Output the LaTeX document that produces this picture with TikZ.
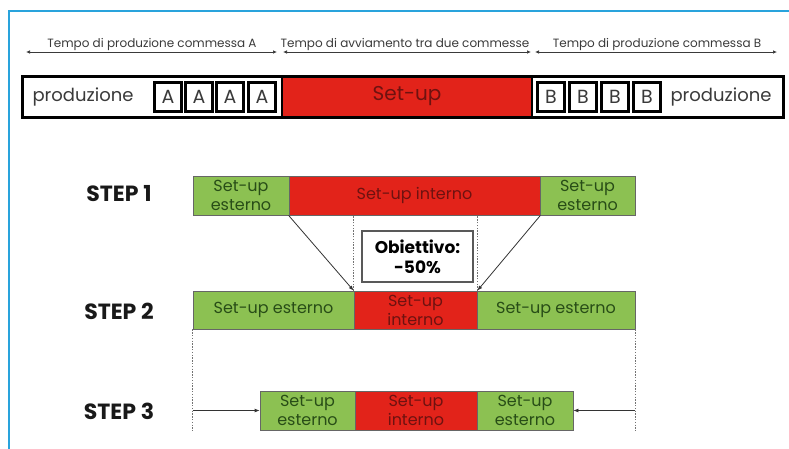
\documentclass[tikz,border=0pt]{standalone}
\usepackage{fontspec}
\setmainfont{Poppins}
\usetikzlibrary{arrows.meta}
\definecolor{frameblue}{HTML}{29A3DC}
\definecolor{sgreen}{HTML}{8CC152}
\definecolor{sred}{HTML}{E2231A}
\definecolor{tgreen}{HTML}{284D17}
\definecolor{tred}{HTML}{6E1210}
\definecolor{tgray}{HTML}{3A3A3A}
\tikzset{
  dimtext/.style={font=\fontsize{12}{14}\selectfont, text=tgray, inner sep=0.5pt, anchor=south},
  dimline/.style={draw=tgray, line width=0.7, {Latex[length=4,width=3.5]}-{Latex[length=4,width=3.5]}},
  letterbox/.style={draw=black, line width=2.6, fill=white, minimum width=27, minimum height=29, inner sep=0, font=\fontsize{19}{19}\selectfont, text=tgray},
  segbase/.style={draw=black!60, line width=0.8, inner sep=0, align=center, font=\fontsize{16}{19}\selectfont},
  gseg/.style={segbase, fill=sgreen, text=tgreen},
  rseg/.style={segbase, fill=sred, text=tred},
  steplabel/.style={font=\bfseries\fontsize{22}{22}\selectfont, text=black!90},
  arr/.style={draw=black!80, line width=0.8, -{Latex[length=5,width=4]}},
  dotline/.style={draw=black!55, line width=1.1, dash pattern=on 1.4pt off 1.4pt}
}
\begin{document}
\begin{tikzpicture}[x=1pt,y=-1pt]
\useasboundingbox (0,0) rectangle (789,448);
% blue frame
\draw[frameblue, line width=2] (9,449) -- (9,11) -- (790,11);

% dimension lines
\coordinate (d1a) at (26,52);  \coordinate (d1b) at (277,52);
\coordinate (d2a) at (283,52); \coordinate (d2b) at (531,52);
\coordinate (d3a) at (535,52); \coordinate (d3b) at (777,52);
\draw[dimline] (d1a) -- (d1b);
\draw[dimline] (d2a) -- (d2b);
\draw[dimline] (d3a) -- (d3b);
\node[dimtext] (t1) at (152,51.5) {Tempo di produzione commessa A};
\node[dimtext] (t2) at (405,51.5) {Tempo di avviamento tra due commesse};
\node[dimtext] (t3) at (657,51.5) {Tempo di produzione commessa B};

% top bar
\node[draw=black, line width=3, fill=white, minimum width=761, minimum height=41, inner sep=0] (bar) at (402.5,96.5) {};
\node[draw=black, line width=2.5, fill=sred, minimum width=250, minimum height=41, inner sep=0, text=tred, font=\fontsize{20}{20}\selectfont] (setup) at (407,96.5) {Set-up};
\node[draw=black, line width=3, minimum width=761, minimum height=41, inner sep=0] (barframe) at (402.5,96.5) {};
\node[font=\fontsize{18}{18}\selectfont, text=tgray] (prodA) at (83,97) {produzione};
\node[font=\fontsize{18}{18}\selectfont, text=tgray] (prodB) at (721,97) {produzione};
\node[letterbox] (a1) at (168,97) {A};
\node[letterbox] (a2) at (199,97) {A};
\node[letterbox] (a3) at (230,97) {A};
\node[letterbox] (a4) at (262,97) {A};
\node[letterbox] (b1) at (551,97) {B};
\node[letterbox] (b2) at (583,97) {B};
\node[letterbox] (b3) at (615,97) {B};
\node[letterbox] (b4) at (647,97) {B};

% STEP 1
\node[steplabel] (s1) at (119,194) {STEP 1};
\node[gseg, minimum width=96, minimum height=39] (g1a) at (241,195.5) {Set-up\\esterno};
\node[rseg, minimum width=251, minimum height=39] (r1) at (414.5,195.5) {Set-up interno};
\node[gseg, minimum width=95, minimum height=39] (g1b) at (587.5,195.5) {Set-up\\esterno};

% STEP 2
\node[steplabel] (s2) at (119,311) {STEP 2};
\node[gseg, minimum width=161, minimum height=38] (g2a) at (273.5,310) {Set-up esterno};
\node[rseg, minimum width=123, minimum height=38] (r2) at (415.5,310) {Set-up\\interno};
\node[gseg, minimum width=158, minimum height=38] (g2b) at (556,310) {Set-up esterno};

% Obiettivo
\node[draw=black!65, line width=1.6, fill=white, minimum width=111, minimum height=51, inner sep=0, align=center, font=\bfseries\fontsize{17}{20}\selectfont] (obj) at (417.5,256.5) {Obiettivo:\\-50\%};

% STEP 3
\node[steplabel] (s3) at (119,411) {STEP 3};
\node[gseg, minimum width=95, minimum height=39] (g3a) at (307.5,410.5) {Set-up\\esterno};
\node[rseg, minimum width=122, minimum height=39] (r3) at (416,410.5) {Set-up\\interno};
\node[gseg, minimum width=96, minimum height=39] (g3b) at (525,410.5) {Set-up\\esterno};

% dotted guides
\draw[dotline] (r2.north west) -- (r2.north west |- r1.south);
\draw[dotline] (r2.north east) -- (r2.north east |- r1.south);
\draw[dotline] (g2a.south west) -- (g2a.south west |- g3a.south);
\draw[dotline] (g2b.south east) -- (g2b.south east |- g3b.south);

% arrows
\draw[arr] (r1.south west) -- (r2.north west);
\draw[arr] (r1.south east) -- (r2.north east);
\draw[arr] (g2a.south west |- g3a.west) -- (g3a.west);
\draw[arr] (g2b.south east |- g3b.east) -- (g3b.east);
\end{tikzpicture}
\end{document}
